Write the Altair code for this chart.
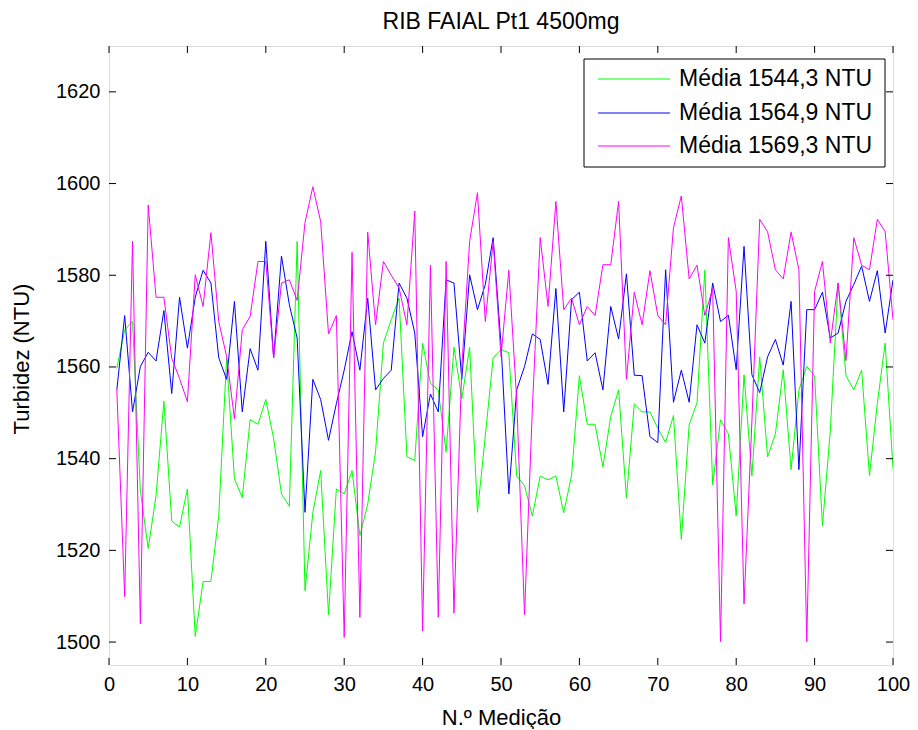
import altair as alt
import pandas as pd

x_vals = list(range(1, 101))

green = [1559.7, 1568.1, 1569.9, 1533.0, 1520.4, 1531.9, 1552.5, 1526.4, 1525.1, 1533.4,
         1501.2, 1513.2, 1513.2, 1527.5, 1561.9, 1535.6, 1531.5, 1548.5, 1547.5, 1552.9,
         1544.4, 1532.3, 1529.6, 1587.4, 1511.2, 1528.2, 1537.4, 1506.0, 1533.4, 1532.3,
         1537.4, 1523.2, 1530.1, 1541.5, 1565.2, 1570.3, 1575.0, 1540.4, 1539.6, 1565.2,
         1556.4, 1555.0, 1541.4, 1564.3, 1553.0, 1564.3, 1528.3, 1545.0, 1562.0, 1563.8,
         1563.1, 1536.2, 1534.1, 1527.5, 1536.2, 1535.4, 1536.2, 1528.2, 1536.3, 1558.1,
         1547.5, 1547.5, 1538.2, 1549.2, 1555.0, 1531.4, 1552.0, 1550.2, 1550.2, 1546.6,
         1543.5, 1549.4, 1522.4, 1547.4, 1552.2, 1581.1, 1534.3, 1548.5, 1545.4, 1527.5,
         1558.3, 1536.2, 1562.2, 1540.4, 1545.4, 1559.4, 1537.6, 1555.0, 1560.1, 1558.1,
         1525.3, 1546.0, 1578.3, 1558.1, 1555.0, 1559.3, 1536.3, 1552.0, 1565.2, 1537.8]

blue = [1555.0, 1571.2, 1550.2, 1560.1, 1563.2, 1561.3, 1572.3, 1554.2, 1575.2, 1564.1,
        1575.2, 1581.1, 1578.3, 1562.0, 1557.3, 1574.3, 1550.2, 1564.0, 1559.3, 1587.4,
        1562.0, 1584.2, 1573.6, 1566.3, 1528.3, 1557.3, 1552.9, 1544.0, 1552.0, 1559.3,
        1567.7, 1559.3, 1575.0, 1555.0, 1557.5, 1559.3, 1578.3, 1575.0, 1567.4, 1544.8,
        1554.1, 1550.2, 1579.0, 1578.3, 1557.3, 1580.1, 1572.5, 1578.0, 1588.2, 1565.0,
        1532.3, 1555.0, 1560.1, 1567.2, 1566.0, 1556.2, 1577.1, 1550.2, 1574.7, 1576.3,
        1561.3, 1563.1, 1555.0, 1573.2, 1566.1, 1580.3, 1558.2, 1558.1, 1544.8, 1543.5,
        1581.2, 1552.3, 1559.3, 1552.3, 1569.2, 1565.2, 1578.3, 1569.9, 1571.3, 1559.4,
        1586.3, 1558.3, 1554.4, 1562.2, 1566.0, 1560.4, 1574.3, 1537.6, 1572.5, 1572.5,
        1576.3, 1566.3, 1567.4, 1574.3, 1578.0, 1582.0, 1574.3, 1581.0, 1567.4, 1579.0]

magenta = [1555.0, 1509.9, 1587.4, 1504.0, 1595.3, 1575.2, 1575.2, 1561.9, 1557.5, 1552.4,
           1580.1, 1573.2, 1589.3, 1569.9, 1562.3, 1548.7, 1568.1, 1571.0, 1583.0, 1583.0,
           1562.0, 1578.3, 1579.0, 1574.5, 1591.5, 1599.3, 1591.7, 1567.2, 1571.2, 1501.0,
           1585.0, 1505.4, 1589.4, 1569.2, 1583.0, 1580.0, 1577.2, 1569.2, 1594.0, 1502.4,
           1582.2, 1505.4, 1583.0, 1506.3, 1560.0, 1587.4, 1598.0, 1569.9, 1587.4, 1562.3,
           1581.1, 1553.0, 1506.0, 1551.0, 1588.2, 1573.2, 1596.1, 1572.5, 1575.0, 1569.2,
           1573.2, 1571.2, 1582.3, 1582.3, 1596.1, 1557.3, 1576.3, 1569.2, 1581.0, 1571.2,
           1569.2, 1590.4, 1597.3, 1579.2, 1582.2, 1571.2, 1577.1, 1500.1, 1588.2, 1576.5,
           1508.3, 1548.0, 1592.2, 1589.5, 1581.2, 1579.2, 1589.4, 1581.2, 1500.1, 1576.5,
           1583.0, 1565.2, 1578.3, 1561.4, 1588.2, 1582.2, 1581.2, 1592.2, 1589.5, 1570.3]

series_labels = ["Média 1544,3 NTU", "Média 1564,9 NTU", "Média 1569,3 NTU"]
series_colors = ["#00ff00", "#0000ff", "#ff00ff"]
x_ticks = list(range(0, 101, 10))
y_ticks = list(range(1500, 1621, 20))
chart_title = "RIB FAIAL Pt1 4500mg"

W, H = 784, 619
FONT = "Liberation Sans"
TICK = 7

xscale = alt.Scale(domain=[0, 100], nice=False, zero=False)
yscale = alt.Scale(domain=[1495, 1630], nice=False, zero=False)

x_axis = alt.Axis(values=x_ticks, format="d", ticks=False, domain=False, grid=False,
                  labelFont=FONT, labelFontSize=20, labelColor="black", labelPadding=9,
                  labelFlush=False,
                  title="N.º Medição", titleFont=FONT, titleFontSize=22, titleFontWeight="normal",
                  titleColor="black", titleX=W / 2, titleY=52, titleBaseline="middle",
                  titleAlign="center")
y_axis = alt.Axis(values=y_ticks, format="d", ticks=False, domain=False, grid=False,
                  labelFont=FONT, labelFontSize=20, labelColor="black", labelPadding=9,
                  labelFlush=False,
                  title="Turbidez (NTU)", titleFont=FONT, titleFontSize=22, titleFontWeight="normal",
                  titleColor="black", titleX=-88, titleY=H / 2 + 3, titleAngle=-90,
                  titleBaseline="middle", titleAlign="center")

layers = []
for lab, col, vals in zip(series_labels, series_colors, [green, blue, magenta]):
    d = pd.DataFrame({"x": x_vals, "v": vals, "s": lab})
    layers.append(
        alt.Chart(d).mark_line(strokeWidth=1, color=col, clip=True).encode(
            x=alt.X("x:Q", scale=xscale, axis=x_axis),
            y=alt.Y("v:Q", scale=yscale, axis=y_axis),
        )
    )

xt = pd.DataFrame({"t": x_ticks})
yt = pd.DataFrame({"t": y_ticks})
tick_layers = [
    alt.Chart(yt).mark_rule(color="black", strokeWidth=1).encode(
        y=alt.Y("t:Q", scale=yscale, axis=y_axis), x=alt.value(0), x2=alt.value(TICK)),
    alt.Chart(yt).mark_rule(color="black", strokeWidth=1).encode(
        y=alt.Y("t:Q", scale=yscale, axis=y_axis), x=alt.value(W - TICK), x2=alt.value(W)),
    alt.Chart(xt).mark_rule(color="black", strokeWidth=1).encode(
        x=alt.X("t:Q", scale=xscale, axis=x_axis), y=alt.value(H - TICK), y2=alt.value(H)),
    alt.Chart(xt).mark_rule(color="black", strokeWidth=1).encode(
        x=alt.X("t:Q", scale=xscale, axis=x_axis), y=alt.value(0), y2=alt.value(TICK)),
]

one = pd.DataFrame({"k": [0]})
title_layer = alt.Chart(pd.DataFrame({"label": [chart_title]})).mark_text(
    align="center", baseline="alphabetic", font=FONT, fontSize=23, color="black").encode(
    text="label:N", x=alt.value(W / 2), y=alt.value(-17))

legend_layers = [
    alt.Chart(one).mark_rect(fill="white", stroke="black", strokeWidth=1).encode(
        x=alt.value(475), x2=alt.value(776), y=alt.value(13), y2=alt.value(121))
]
row_y = [33, 67, 100]
for lab, col, ry in zip(series_labels, series_colors, row_y):
    legend_layers.append(
        alt.Chart(one).mark_rule(color=col, strokeWidth=1).encode(
            x=alt.value(489), x2=alt.value(561), y=alt.value(ry)))
    legend_layers.append(
        alt.Chart(pd.DataFrame({"label": [lab]})).mark_text(
            align="left", baseline="middle", font=FONT, fontSize=23, color="black").encode(
            text="label:N", x=alt.value(570), y=alt.value(ry)))

chart = alt.layer(*layers, *tick_layers, *legend_layers, title_layer).properties(
    width=W, height=H,
    autosize=alt.AutoSizeParams(type="none"),
    padding={"left": 101, "top": 38, "right": 17, "bottom": 64},
).configure_view(stroke="black", strokeWidth=1).configure(background="white")

chart.save("out.html", embed_options={"renderer": "svg", "actions": False})
